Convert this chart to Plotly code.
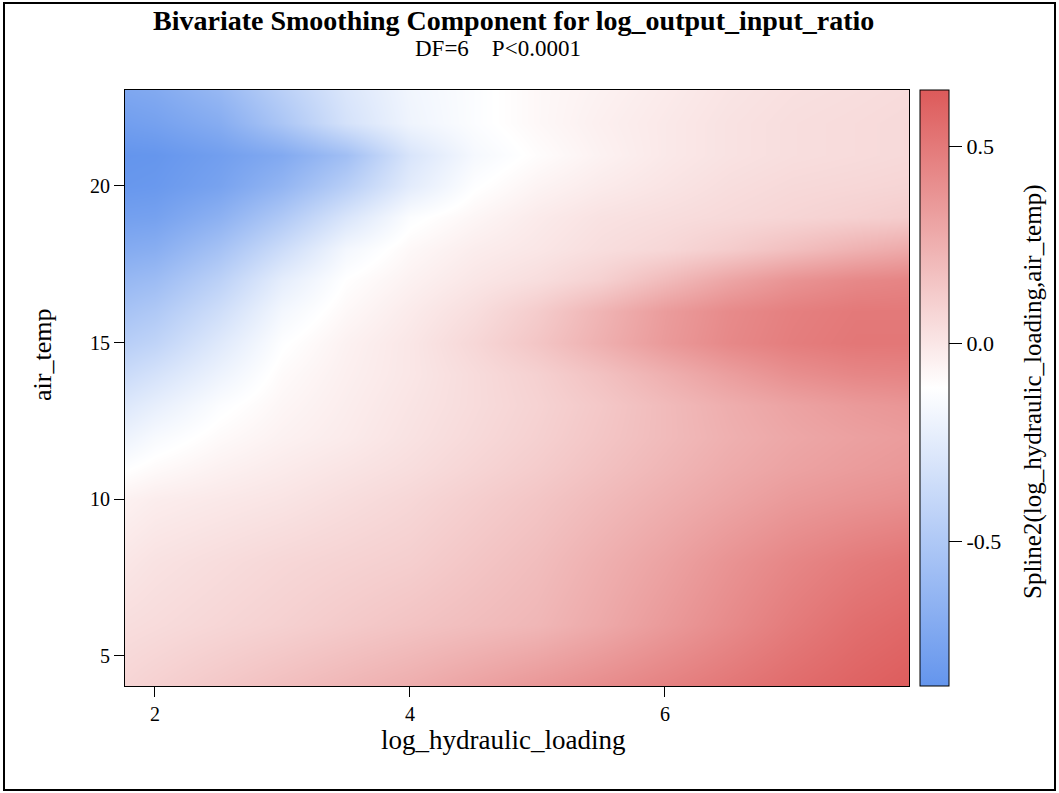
import plotly.graph_objects as go

# Grid of the smoothing surface
x_vals = [1.765, 2.0, 2.5, 3.0, 3.5, 4.0, 4.5, 5.0, 5.5, 6.0, 6.5, 7.0, 7.5, 7.914]
y_vals = [4.04, 6, 8, 10, 11, 12, 13, 14, 15, 16, 17, 18, 19, 20, 21, 22, 23.06]

z_y04 = [0.08, 0.10, 0.14, 0.18, 0.22, 0.26, 0.31, 0.36, 0.41, 0.46, 0.51, 0.56, 0.60, 0.63]
z_y06 = [0.04, 0.05, 0.075, 0.10, 0.13, 0.16, 0.19, 0.22, 0.28, 0.35, 0.42, 0.49, 0.55, 0.58]
z_y08 = [0.0, 0.02, 0.045, 0.07, 0.09, 0.11, 0.15, 0.19, 0.25, 0.31, 0.38, 0.44, 0.49, 0.52]
z_y10 = [-0.05, -0.03, -0.01, 0.01, 0.04, 0.07, 0.11, 0.15, 0.20, 0.25, 0.30, 0.35, 0.38, 0.40]
z_y11 = [-0.12, -0.09, -0.05, -0.02, 0.01, 0.04, 0.08, 0.12, 0.17, 0.22, 0.27, 0.31, 0.34, 0.36]
z_y12 = [-0.20, -0.15, -0.09, -0.05, -0.02, 0.02, 0.06, 0.10, 0.15, 0.20, 0.25, 0.29, 0.32, 0.34]
z_y13 = [-0.28, -0.23, -0.13, -0.07, -0.03, 0.01, 0.05, 0.09, 0.14, 0.20, 0.26, 0.31, 0.35, 0.37]
z_y14 = [-0.37, -0.32, -0.20, -0.09, -0.04, 0.0, 0.05, 0.10, 0.17, 0.25, 0.33, 0.40, 0.44, 0.45]
z_y15 = [-0.46, -0.42, -0.27, -0.12, -0.05, 0.0, 0.07, 0.15, 0.25, 0.35, 0.43, 0.48, 0.51, 0.51]
z_y16 = [-0.54, -0.50, -0.35, -0.17, -0.08, -0.02, 0.04, 0.12, 0.23, 0.34, 0.42, 0.47, 0.50, 0.50]
z_y17 = [-0.62, -0.59, -0.44, -0.24, -0.11, -0.05, 0.0, 0.04, 0.10, 0.20, 0.30, 0.38, 0.43, 0.45]
z_y18 = [-0.71, -0.69, -0.55, -0.36, -0.17, -0.08, -0.03, 0.0, 0.04, 0.07, 0.12, 0.18, 0.24, 0.28]
z_y19 = [-0.79, -0.78, -0.67, -0.50, -0.30, -0.13, -0.07, -0.02, 0.02, 0.04, 0.06, 0.08, 0.10, 0.12]
z_y20 = [-0.85, -0.84, -0.77, -0.64, -0.46, -0.25, -0.12, -0.06, -0.02, 0.01, 0.04, 0.06, 0.07, 0.08]
z_y21 = [-0.867, -0.86, -0.80, -0.72, -0.57, -0.30, -0.16, -0.10, -0.05, -0.01, 0.02, 0.04, 0.05, 0.06]
z_y22 = [-0.80, -0.78, -0.70, -0.52, -0.32, -0.19, -0.13, -0.08, -0.04, -0.01, 0.02, 0.04, 0.05, 0.06]
z_y23 = [-0.74, -0.72, -0.62, -0.45, -0.29, -0.18, -0.13, -0.08, -0.05, -0.02, 0.01, 0.03, 0.04, 0.05]

z_rows = [z_y04, z_y06, z_y08, z_y10, z_y11, z_y12, z_y13, z_y14, z_y15, z_y16,
          z_y17, z_y18, z_y19, z_y20, z_y21, z_y22, z_y23]

z_min, z_max = -0.867, 0.642
x_ticks = [2, 4, 6]
y_ticks = [5, 10, 15, 20]
cb_ticks = [-0.5, 0.0, 0.5]
cb_ticktext = ["-0.5", "0.0", "0.5"]

FONT = "Liberation Serif"
W, H = 1059, 793
L, R, T, B = 125, 150, 90, 107
PW, PH = W - L - R, H - T - B


def px_x(p):
    return (p - L) / PW


def px_y(p):
    return (H - B - p) / PH


fig = go.Figure()
fig.add_trace(go.Heatmap(
    x=x_vals, y=y_vals, z=z_rows,
    zmin=z_min, zmax=z_max, zsmooth="best",
    colorscale=[[0.0, "rgb(100,149,237)"], [0.5, "rgb(255,255,255)"], [1.0, "rgb(221,90,90)"]],
    colorbar=dict(
        x=px_x(920), xanchor="left", xpad=0, y=0.5, yanchor="middle", ypad=0,
        len=1, lenmode="fraction", thickness=29,
        outlinewidth=1, outlinecolor="black",
        tickvals=cb_ticks, ticktext=cb_ticktext,
        ticks="outside", ticklen=13, tickcolor="black", tickwidth=1,
        tickfont=dict(family=FONT, size=22, color="black"),
    ),
    hoverinfo="skip",
))

fig.update_layout(
    width=W, height=H,
    margin=dict(l=L, r=R, t=T, b=B),
    paper_bgcolor="white", plot_bgcolor="white",
    font=dict(family=FONT, color="black"),
    showlegend=False,
)
fig.update_xaxes(
    range=[1.765, 7.914], tickvals=x_ticks, ticks="outside", ticklen=10,
    tickcolor="black", showline=True, linecolor="black", linewidth=1, mirror=True,
    showgrid=False, zeroline=False,
    tickfont=dict(family=FONT, size=20, color="black"),
)
fig.update_yaxes(
    range=[4.04, 23.06], tickvals=y_ticks, ticks="outside", ticklen=10,
    tickcolor="black", showline=True, linecolor="black", linewidth=1, mirror=True,
    showgrid=False, zeroline=False,
    tickfont=dict(family=FONT, size=20, color="black"),
)

# Titles
fig.add_annotation(text="<b>Bivariate Smoothing Component for log_output_input_ratio</b>",
                   xref="paper", yref="paper", x=px_x(513), y=px_y(20),
                   xanchor="center", yanchor="middle", showarrow=False,
                   font=dict(family=FONT, size=28, color="black"))
fig.add_annotation(text="DF=6&nbsp;&nbsp;&nbsp;&nbsp;P<0.0001",
                   xref="paper", yref="paper", x=px_x(498), y=px_y(48),
                   xanchor="center", yanchor="middle", showarrow=False,
                   font=dict(family=FONT, size=23, color="black"))
# Axis titles
fig.add_annotation(text="log_hydraulic_loading",
                   xref="paper", yref="paper", x=px_x(503), y=px_y(740),
                   xanchor="center", yanchor="middle", showarrow=False,
                   font=dict(family=FONT, size=27, color="black"))
fig.add_annotation(text="air_temp",
                   xref="paper", yref="paper", x=px_x(42), y=px_y(355),
                   xanchor="center", yanchor="middle", textangle=-90, showarrow=False,
                   font=dict(family=FONT, size=26, color="black"))
# Colour bar title
fig.add_annotation(text="Spline2(log_hydraulic_loading,air_temp)",
                   xref="paper", yref="paper", x=px_x(1033), y=px_y(392),
                   xanchor="center", yanchor="middle", textangle=-90, showarrow=False,
                   font=dict(family=FONT, size=25, color="black"))

# Outer frame
fig.add_shape(type="rect", xref="paper", yref="paper",
              x0=px_x(4), x1=px_x(1055), y0=px_y(790), y1=px_y(3),
              line=dict(color="black", width=2), fillcolor="rgba(0,0,0,0)", layer="below")

fig.write_html("out.html", config={"displayModeBar": False},
               post_script="document.body.style.margin='0px';document.body.style.overflow='hidden';")
